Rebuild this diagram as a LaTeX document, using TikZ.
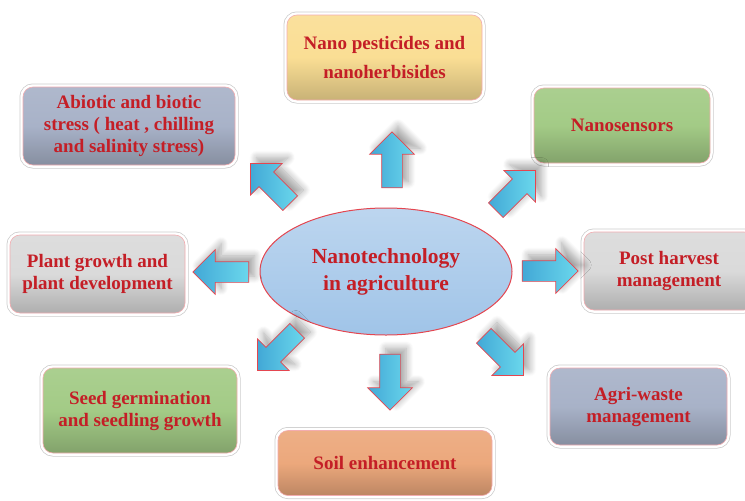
\documentclass[tikz,border=0pt]{standalone}
\usepackage{fontspec}
\setmainfont{Liberation Serif}
\usetikzlibrary{positioning,shapes.geometric,shapes.arrows,shadows.blur}
\definecolor{textred}{RGB}{196,30,38}
\definecolor{edgered}{RGB}{228,70,80}
\definecolor{pestyellow}{RGB}{250,222,148}
\definecolor{slateblue}{RGB}{168,178,200}
\definecolor{leafgreen}{RGB}{163,203,134}
\definecolor{palegray}{RGB}{218,218,218}
\definecolor{soilorange}{RGB}{236,168,124}
\definecolor{skyblue}{RGB}{160,196,232}
\definecolor{arrowblue}{RGB}{66,168,214}

\begin{document}
\begin{tikzpicture}[x=1pt, y=-1pt,
  topic/.style={rectangle, rounded corners=10pt, draw=edgered!45, line width=0.6pt,
                top color=#1!92!white, bottom color=#1!80!black, middle color=#1,
                preaction={draw=black!20, line width=7pt},
                preaction={draw=white, line width=5.5pt},
                align=center, text=textred, inner sep=3pt,
                font=\fontsize{19}{22}\selectfont\bfseries},
  hub/.style={ellipse, draw=edgered, line width=1pt, top color=skyblue!70!white,
              bottom color=skyblue, minimum width=252pt, minimum height=127pt,
              align=center, text=textred, font=\fontsize{21.5}{27}\selectfont\bfseries},
  flow/.style={single arrow, draw=edgered, line width=0.7pt,
               left color=arrowblue, right color=arrowblue!65!cyan!70!white,
               minimum height=56pt, inner xsep=0pt, inner ysep=10pt,
               single arrow head extend=12pt,
               blur shadow={shadow xshift=6pt, shadow yshift=6pt, shadow blur radius=7pt,
                            shadow opacity=35, shadow blur steps=10}}
]
\useasboundingbox (0,0) rectangle (745,501);

% centre
\node[hub] (nano) at (386,271.5) {Nanotechnology\\ in agriculture};

% outer topics
\node[topic=pestyellow, minimum width=195pt, minimum height=85pt] (pest) at (384.5,57.5)
  {Nano pesticides and\\[7pt] nanoherbisides};
\node[topic=slateblue, minimum width=212pt, minimum height=78pt] (stress) at (129,126)
  {Abiotic and biotic\\ stress ( heat , chilling\\ and salinity stress)};
\node[topic=leafgreen, minimum width=176pt, minimum height=75pt] (sensor) at (622,125.5)
  {Nanosensors};
\node[topic=palegray, minimum width=175pt, minimum height=78pt] (plant) at (97.5,274)
  {Plant growth and\\ plant development};
\node[topic=palegray, minimum width=170pt, minimum height=78pt] (post) at (669,271)
  {Post harvest\\ management};
\node[topic=leafgreen, minimum width=194pt, minimum height=85pt] (seed) at (140,410.5)
  {Seed germination\\ and seedling growth};
\node[topic=soilorange, minimum width=214pt, minimum height=65pt] (soil) at (385,463)
  {Soil enhancement};
\node[topic=slateblue, minimum width=177pt, minimum height=77pt] (waste) at (638.5,406.5)
  {Agri-waste\\ management};

% block arrows
\node[flow, rotate=90] (to-pest) at (392,165) {};
\node[flow, rotate=45] (to-sensor) at (512,194) {};
\node[flow] (to-post) at (545,271) {};
\node[flow, rotate=-45] (to-waste) at (500,352) {};
\node[flow, rotate=-90] (to-soil) at (390,377) {};
\node[flow, rotate=-135] (to-seed) at (281,347) {};
\node[flow, rotate=180] (to-plant) at (226,272) {};
\node[flow, rotate=135] (to-stress) at (274,187) {};
\end{tikzpicture}
\end{document}
